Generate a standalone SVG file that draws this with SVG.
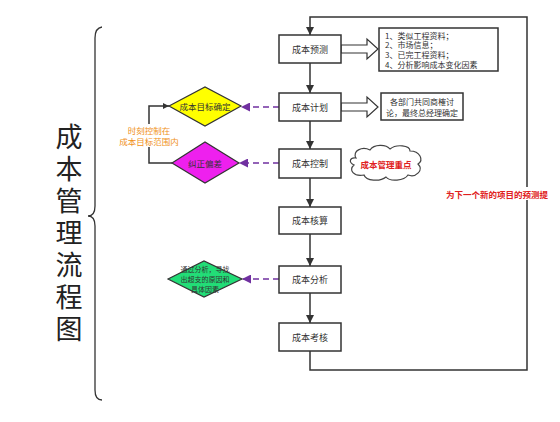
<svg xmlns="http://www.w3.org/2000/svg" width="560" height="422" viewBox="0 0 560 422">
<defs>
<style>
.box{fill:#fff;stroke:#333;stroke-width:1.5}
.lbl{font-family:"Noto Sans CJK SC","Liberation Sans",sans-serif;font-size:9px;fill:#333;text-anchor:middle;dominant-baseline:central}
.info{font-family:"Noto Sans CJK SC","Liberation Sans",sans-serif;font-size:8px;fill:#333;dominant-baseline:central}
.line{fill:none;stroke:#333;stroke-width:1.5}
.dash{fill:none;stroke:#7030a0;stroke-width:1.6;stroke-dasharray:6 4}
.hollow{fill:#fff;stroke:#333;stroke-width:1.2}
.red{font-family:"Noto Sans CJK SC","Liberation Sans",sans-serif;font-size:8.5px;font-weight:bold;fill:#e02020;dominant-baseline:central}
.orange{font-family:"Noto Sans CJK SC","Liberation Sans",sans-serif;font-size:8.5px;fill:#f09020;text-anchor:middle;dominant-baseline:central}
</style>
<marker id="ah" viewBox="0 0 10 10" refX="10" refY="5" markerWidth="6" markerHeight="6" orient="auto" markerUnits="userSpaceOnUse">
<path d="M0,0 L10,5 L0,10 z" fill="#333"/>
</marker>
<marker id="ahb" viewBox="0 0 10 10" refX="10" refY="5" markerWidth="8" markerHeight="8" orient="auto" markerUnits="userSpaceOnUse">
<path d="M0,0 L10,5 L0,10 z" fill="#333"/>
</marker>
<marker id="ap" viewBox="0 0 10 10" refX="10" refY="5" markerWidth="9" markerHeight="9" orient="auto" markerUnits="userSpaceOnUse">
<path d="M0,0 L10,5 L0,10 z" fill="#7030a0"/>
</marker>
<clipPath id="clipR"><rect x="0" y="0" width="554" height="422"/></clipPath>
</defs>
<rect width="560" height="422" fill="#fff"/>

<g id="connectors">
<line class="line" x1="310" y1="63" x2="310" y2="93" marker-end="url(#ahb)"/>
<line class="line" x1="310" y1="121" x2="310" y2="149" marker-end="url(#ahb)"/>
<line class="line" x1="310" y1="178" x2="310" y2="207" marker-end="url(#ahb)"/>
<line class="line" x1="310" y1="234" x2="310" y2="266" marker-end="url(#ahb)"/>
<line class="line" x1="310" y1="293" x2="310" y2="323" marker-end="url(#ahb)"/>
<path class="line" d="M310,351 V370 H527 V17 H310 V35" marker-end="url(#ahb)"/>
<line class="dash" x1="279" y1="107" x2="241" y2="107" marker-end="url(#ap)"/>
<line class="dash" x1="279" y1="163" x2="239" y2="163" marker-end="url(#ap)"/>
<line class="dash" x1="279" y1="279" x2="242" y2="279" marker-end="url(#ap)"/>
<path class="line" d="M172,163 H149 V106 H169" marker-end="url(#ah)"/>
<polygon class="hollow" points="341,45 367,45 367,39 378,49 367,59 367,53 341,53"/>
<polygon class="hollow" points="341,103 367,103 367,97 378,107 367,117 367,111 341,111"/>
</g>

<g id="n-yuce"><rect class="box" x="279" y="35" width="62" height="28"/><text class="lbl" x="310" y="49">成本预测</text></g>
<g id="n-jihua"><rect class="box" x="279" y="93" width="62" height="28"/><text class="lbl" x="310" y="107">成本计划</text></g>
<g id="n-kongzhi"><rect class="box" x="279" y="149" width="62" height="29"/><text class="lbl" x="310" y="163.5">成本控制</text></g>
<g id="n-hesuan"><rect class="box" x="279" y="207" width="62" height="27"/><text class="lbl" x="310" y="220.5">成本核算</text></g>
<g id="n-fenxi"><rect class="box" x="279" y="266" width="62" height="27"/><text class="lbl" x="310" y="279.5">成本分析</text></g>
<g id="n-kaohe"><rect class="box" x="279" y="323" width="62" height="28"/><text class="lbl" x="310" y="337">成本考核</text></g>

<g id="n-info1"><rect class="box" x="379" y="28" width="119" height="43" stroke-width="1.2"/>
<text class="info" x="385" y="35">1、类似工程资料；</text>
<text class="info" x="385" y="44.5">2、市场信息；</text>
<text class="info" x="385" y="54">3、已完工程资料；</text>
<text class="info" x="385" y="64">4、分析影响成本变化因素</text></g>
<g id="n-info2"><rect class="box" x="381" y="93" width="82" height="27" stroke-width="1.2"/>
<text class="lbl" x="422" y="101" style="font-size:8px">各部门共同商榷讨</text>
<text class="lbl" x="422" y="112" style="font-size:8px">论，最终总经理确定</text></g>

<g id="n-mubiao"><polygon points="169,106 205,87 241,106 205,126" fill="#ffff00" stroke="#333" stroke-width="1.2"/><text class="lbl" x="205" y="106" style="font-size:8.5px">成本目标确定</text></g>
<g id="n-jiuzheng"><polygon points="172,163 205,142 239,163 205,183" fill="#ee20ee" stroke="#333" stroke-width="1.2"/><text class="lbl" x="205" y="163" style="font-size:8.5px">纠正偏差</text></g>
<g id="n-xunzhao"><polygon points="168,279 204,261 242,279 204,297" fill="#22dd77" stroke="#333" stroke-width="1.2"/>
<text class="lbl" x="205" y="268.6" style="font-size:7px">通过分析，寻找</text>
<text class="lbl" x="205" y="279" style="font-size:7px">出超支的原因和</text>
<text class="lbl" x="205" y="289.4" style="font-size:7px">具体因素</text></g>

<g id="n-kongzhi-note"><rect x="118" y="124" width="63" height="23" fill="#fff"/>
<text class="orange" x="149" y="129.5">时刻控制在</text>
<text class="orange" x="149" y="141">成本目标范围内</text></g>

<g id="n-cloud"><path d="M356,158 C352,151 362,146 370,150 C374,144 386,144 390,149 C396,144 410,145 410,151 C420,151 424,160 418,164 C424,170 416,178 408,175 C404,181 390,182 386,177 C380,182 366,181 364,175 C354,177 348,170 354,165 C348,162 350,157 356,158 z" fill="#fff" stroke="#444" stroke-width="1.2"/>
<text class="red" x="386" y="164" text-anchor="middle">成本管理重点</text></g>

<g id="n-redtext" clip-path="url(#clipR)"><rect x="444" y="187" width="112" height="13" fill="#fff"/>
<text class="red" x="446" y="193.5">为下一个新的项目的预测提</text></g>

<g id="n-brace"><path d="M102,27 Q95,28 95,38 V206 Q95,216 88,216 Q95,216 95,226 V390 Q95,400 102,400" fill="none" stroke="#333" stroke-width="1.3"/></g>
<g id="n-title">
<text x="69" y="123.5" writing-mode="vertical-rl" letter-spacing="5" font-family="'Noto Sans CJK SC','Liberation Sans',sans-serif" font-size="27" fill="#222">成本管理流程图</text>
</g>
</svg>
